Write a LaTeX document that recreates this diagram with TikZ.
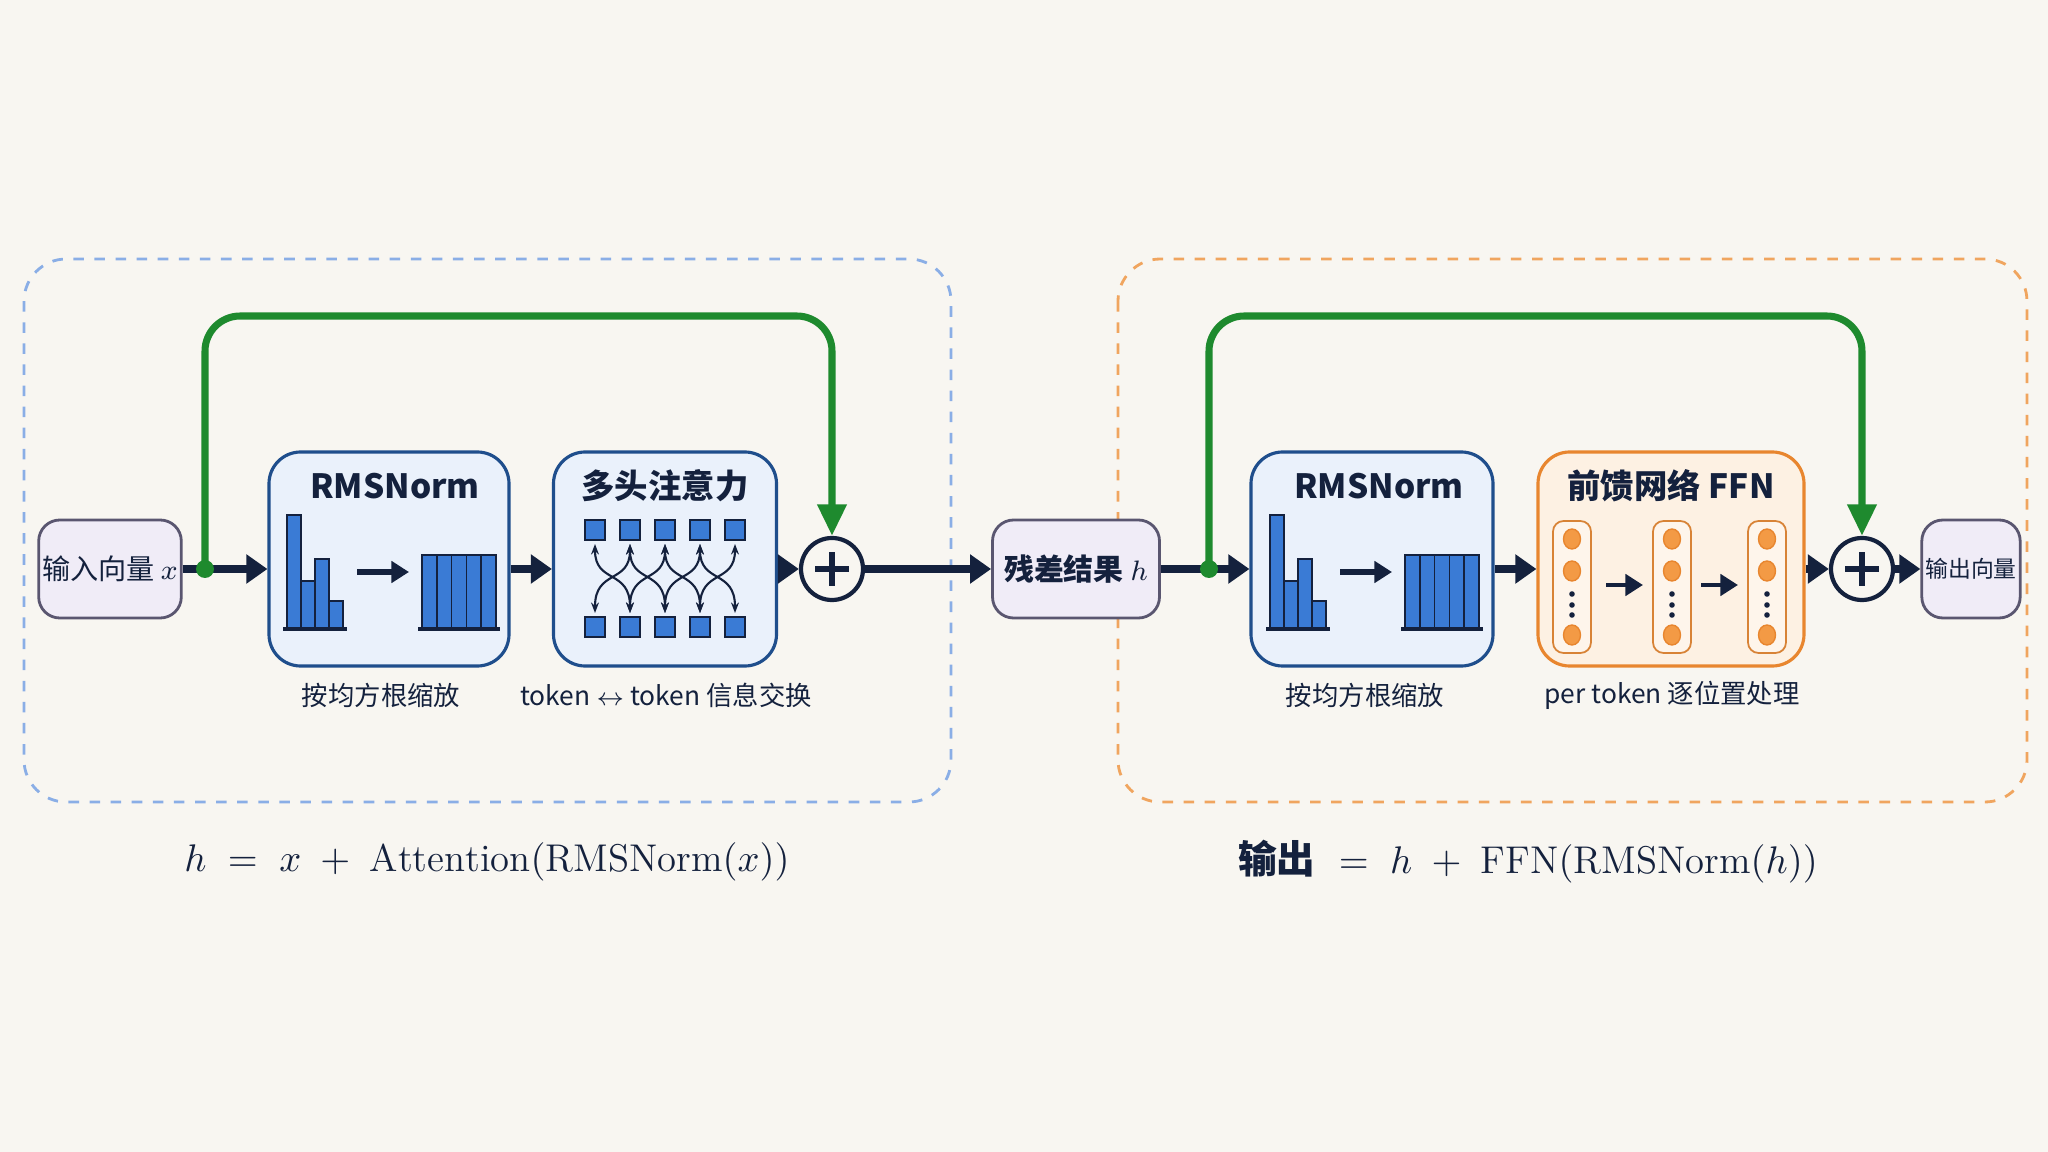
\documentclass[tikz,border=0pt]{standalone}
\usepackage{fontspec}
\newfontfamily\cjk{Noto Sans CJK SC}
\usepackage{tikz}
\usetikzlibrary{arrows.meta,positioning}
\definecolor{paper}{HTML}{F8F6F1}
\definecolor{navy}{HTML}{14213D}
\definecolor{boxblue}{HTML}{1F4E8C}
\definecolor{fillblue}{HTML}{EAF1FB}
\definecolor{barblue}{HTML}{3A7BD5}
\definecolor{dashblue}{HTML}{8AAEE6}
\definecolor{dashorange}{HTML}{F0A55F}
\definecolor{ffnorange}{HTML}{E8862F}
\definecolor{fillorange}{HTML}{FDF1E3}
\definecolor{dotorange}{HTML}{F39A45}
\definecolor{iolilac}{HTML}{F0ECF7}
\definecolor{ioedge}{HTML}{5A5670}
\definecolor{skipgreen}{HTML}{1E8A2E}
\tikzset{
  iobox/.style={draw=ioedge, fill=iolilac, rounded corners=6pt, line width=0.8pt,
    minimum height=0.98cm, font=\cjk\fontsize{8}{9}\selectfont, text=navy, inner sep=1pt},
  stage/.style={draw=boxblue, fill=fillblue, rounded corners=9pt, line width=0.9pt,
    minimum height=2.14cm},
  title/.style={font=\cjk\bfseries\fontsize{9.5}{11}\selectfont, text=navy},
  caption/.style={font=\cjk\fontsize{7.5}{9}\selectfont, text=navy},
  flow/.style={navy, line width=2.2pt, -{Triangle[length=6pt,width=8pt]}},
  skip/.style={skipgreen, line width=2pt, rounded corners=10pt, -{Triangle[length=9pt,width=8pt]}},
  bar/.style={fill=barblue, draw=navy, line width=0.5pt},
  sumnode/.style={circle, draw=navy, fill=paper, line width=1.2pt, minimum size=0.62cm, inner sep=0pt},
  formula/.style={font=\fontsize{11}{13}\selectfont, text=navy},
}
\begin{document}
\begin{tikzpicture}[x=1cm,y=-1cm]
    % canvas
    \fill[paper] (0,0) rectangle (20.48,11.52);
    \useasboundingbox (0,0) rectangle (20.48,11.52);

    % dashed groups
    \draw[dashblue, dashed, line width=0.8pt, rounded corners=12pt] (0.24,2.59) rectangle (9.51,8.02);
    \draw[dashorange, dashed, line width=0.8pt, rounded corners=12pt] (11.18,2.59) rectangle (20.27,8.02);

    % first half
    \node[iobox, minimum width=1.40cm] (inp) at (1.10,5.69) {输入向量 $x$};
    \node[stage, minimum width=2.40cm] (rms1) at (3.89,5.59) {};
    \node[stage, minimum width=2.23cm] (attn) at (6.65,5.59) {};
    \node[sumnode] (sum1) at (8.32,5.69) {};
    \coordinate (split1) at (2.05,5.69);

    % second half
    \node[iobox, minimum width=1.67cm, font=\cjk\bfseries\fontsize{8.5}{10}\selectfont] (res) at (10.76,5.69) {残差结果 $h$};
    \node[stage, minimum width=2.42cm] (rms2) at (13.72,5.59) {};
    \node[stage, draw=ffnorange, fill=fillorange, minimum width=2.66cm] (ffn) at (16.71,5.59) {};
    \node[sumnode] (sum2) at (18.62,5.69) {};
    \node[iobox, minimum width=0.87cm, font=\cjk\fontsize{6.5}{8}\selectfont] (out) at (19.71,5.69) {输出向量};
    \coordinate (split2) at (12.09,5.69);

    % titles and captions
    \node[title] at (3.95,4.86) {RMSNorm};
    \node[title] at (6.65,4.86) {多头注意力};
    \node[title] at (13.79,4.86) {RMSNorm};
    \node[title] at (16.71,4.86) {前馈网络 FFN};
    \node[caption] at (3.81,6.95) {按均方根缩放};
    \node[caption] at (6.66,6.95) {token $\leftrightarrow$ token 信息交换};
    \node[caption] at (13.65,6.95) {按均方根缩放};
    \node[caption] at (16.72,6.95) {per token 逐位置处理};

    % RMSNorm icons
    \foreach \c in {rms1,rms2} {
      \begin{scope}[shift={(\c.center)}]
        \foreach \i/\t in {0/-0.44,1/0.22,2/0.00,3/0.42}
          \draw[bar] (-1.02+0.14*\i,0.70) rectangle (-0.88+0.14*\i,\t);
        \draw[navy, line width=1.2pt] (-1.06,0.70) -- (-0.42,0.70);
        \foreach \i in {0,...,4}
          \draw[bar] (0.33+0.148*\i,0.70) rectangle (0.478+0.148*\i,-0.04);
        \draw[navy, line width=1.2pt] (0.29,0.70) -- (1.11,0.70);
        \draw[navy, line width=1.5pt, -{Triangle[length=5pt,width=6pt]}] (-0.32,0.13) -- (0.20,0.13);
      \end{scope}
    }

    % attention icon
    \begin{scope}[shift={(attn.center)}]
      \foreach \i in {0,...,4} {
        \draw[bar] (-0.80+0.35*\i,-0.39) rectangle (-0.60+0.35*\i,-0.19);
        \draw[bar] (-0.80+0.35*\i,0.58) rectangle (-0.60+0.35*\i,0.78);
      }
      \foreach \i in {0,...,3} {
        \draw[navy, line width=0.6pt, {Stealth[length=3pt]}-{Stealth[length=3pt]}]
          (-0.70+0.35*\i,-0.15) .. controls (-0.70+0.35*\i,0.25) and (-0.35+0.35*\i,0.10) .. (-0.35+0.35*\i,0.54);
        \draw[navy, line width=0.6pt, {Stealth[length=3pt]}-{Stealth[length=3pt]}]
          (-0.35+0.35*\i,-0.15) .. controls (-0.35+0.35*\i,0.25) and (-0.70+0.35*\i,0.10) .. (-0.70+0.35*\i,0.54);
      }
    \end{scope}

    % FFN icon
    \begin{scope}[shift={(ffn.center)}]
      \foreach \x in {-0.99,0.01,0.96} {
        \draw[ffnorange!60!brown, fill=fillorange!70!white, line width=0.5pt, rounded corners=3pt]
          (\x-0.19,-0.38) rectangle (\x+0.19,0.94);
        \foreach \y in {-0.20,0.12,0.76}
          \draw[ffnorange, fill=dotorange, line width=0.4pt] (\x,\y) ellipse (0.085 and 0.1);
        \foreach \y in {0.35,0.46,0.56}
          \fill[navy] (\x,\y) circle (0.028);
      }
      \draw[navy, line width=1.4pt, -{Triangle[length=5pt,width=6pt]}] (-0.65,0.26) -- (-0.28,0.26);
      \draw[navy, line width=1.4pt, -{Triangle[length=5pt,width=6pt]}] (0.30,0.26) -- (0.67,0.26);
    \end{scope}

    % plus signs
    \foreach \s in {sum1,sum2}
      \draw[navy, line width=1.6pt] ([xshift=-0.17cm]\s.center) -- ([xshift=0.17cm]\s.center)
        ([yshift=-0.17cm]\s.center) -- ([yshift=0.17cm]\s.center);

    % main flow
    \draw[flow] (inp.east) -- (inp.east -| rms1.west);
    \draw[flow] (split1 -| rms1.east) -- (split1 -| attn.west);
    \draw[flow] (split1 -| attn.east) -- (sum1.west);
    \draw[flow] (sum1.east) -- (res.west);
    \draw[flow] (res.east) -- (res.east -| rms2.west);
    \draw[flow] (split2 -| rms2.east) -- (split2 -| ffn.west);
    \draw[flow] (split2 -| ffn.east) -- (sum2.west);
    \draw[flow] (sum2.east) -- (out.west);

    % residual skips
    \draw[skip] (split1) -- (2.05,3.16) -- (8.32,3.16) -- (sum1.north);
    \draw[skip] (split2) -- (12.09,3.16) -- (18.62,3.16) -- (sum2.north);
    \fill[skipgreen] (split1) circle (0.09);
    \fill[skipgreen] (split2) circle (0.09);

    % formulas
    \node[formula] at (4.87,8.62)
      {$h \;=\; x \;+\; \mathrm{Attention}(\mathrm{RMSNorm}(x))$};
    \node[formula] at (15.28,8.62)
      {{\cjk\bfseries 输出} $\;=\; h \;+\; \mathrm{FFN}(\mathrm{RMSNorm}(h))$};
\end{tikzpicture}
\end{document}
